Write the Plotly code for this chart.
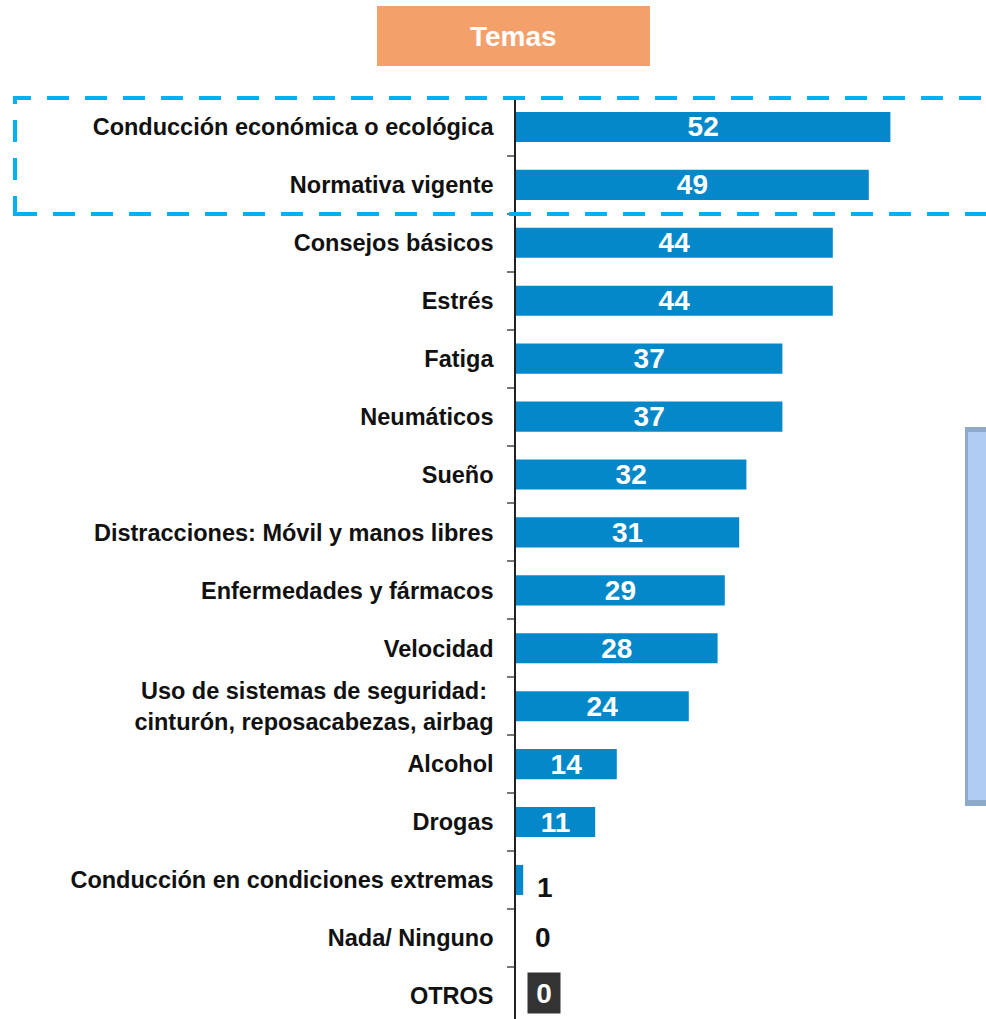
import plotly.graph_objects as go

categories = [
    "Conducción económica o ecológica",
    "Normativa vigente",
    "Consejos básicos",
    "Estrés",
    "Fatiga",
    "Neumáticos",
    "Sueño",
    "Distracciones: Móvil y manos libres",
    "Enfermedades y fármacos",
    "Velocidad",
    "Uso de sistemas de seguridad: <br>cinturón, reposacabezas, airbag",
    "Alcohol",
    "Drogas",
    "Conducción en condiciones extremas",
    "Nada/ Ninguno",
    "OTROS",
]
values = [52, 49, 44, 44, 37, 37, 32, 31, 29, 28, 24, 14, 11, 1, 0, 0]
title_text = "Temas"

OFF = 0  # page body margin removed via post_script
W, H = 986 - OFF, 1019 - OFF
ML, MR, MT, MB = 516 - OFF, 0, 98 - OFF, 0
PW, PH = W - ML - MR, H - MT - MB

def px(x):
    return (x - OFF - ML) / PW

def py(y):
    return (H - (y - OFF)) / PH

FONT = "Liberation Sans, Arial, sans-serif"
BAR = "#0588C9"

inside_text = [str(v) if v >= 5 else "" for v in values]

fig = go.Figure()
fig.add_trace(go.Bar(
    x=values, y=categories, orientation="h",
    marker=dict(color=BAR, line=dict(width=0)),
    width=0.52,
    text=inside_text, textposition="inside", insidetextanchor="middle",
    textangle=0, constraintext="none",
    textfont=dict(family=FONT, size=28, color="white", weight="bold"),
    hoverinfo="skip",
))

# outside/special value labels for the small bars
specials = [(13, 22, -8, None, "#111111"), (14, 27, 0, None, "#111111"), (15, 28, 3, "#333333", "white")]
for idx, xs, ys, bg, col in specials:
    kw = dict(
        x=values[idx], y=categories[idx], xref="x", yref="y",
        text=str(values[idx]), showarrow=False, xshift=xs, yshift=ys,
        font=dict(family=FONT, size=28, color=col, weight="bold"),
    )
    if bg:
        kw.update(bgcolor=bg, width=28, height=36, borderpad=2)
    fig.add_annotation(**kw)

# title box
fig.add_shape(type="rect", xref="paper", yref="paper",
              x0=px(377), x1=px(650), y0=py(66), y1=py(6),
              fillcolor="#F4A06B", line=dict(width=0), layer="above")
fig.add_annotation(x=px(513), y=py(37), xref="paper", yref="paper",
                   xanchor="center", yanchor="middle",
                   text=title_text, showarrow=False,
                   font=dict(family=FONT, size=28, color="white", weight="bold"))

# dashed highlight box
fig.add_shape(type="rect", xref="paper", yref="paper",
              x0=px(15), x1=px(1010), y0=py(214), y1=py(98),
              line=dict(color="#00B0F0", width=4, dash="22px,16px"),
              fillcolor="rgba(0,0,0,0)", layer="above")

# decorative bevelled panel at right
fig.add_shape(type="rect", xref="paper", yref="paper",
              x0=px(965), x1=px(1000), y0=py(806), y1=py(427),
              fillcolor="#8FA9C8", line=dict(width=0), layer="above")
fig.add_shape(type="rect", xref="paper", yref="paper",
              x0=px(968), x1=px(1000), y0=py(800), y1=py(432),
              fillcolor="#AFCDF3", line=dict(width=0), layer="above")

fig.update_layout(
    width=W, height=H,
    margin=dict(l=ML, r=MR, t=MT, b=MB, pad=0),
    paper_bgcolor="white", plot_bgcolor="white",
    showlegend=False, bargap=0.48,
    font=dict(family=FONT),
    xaxis=dict(visible=False, range=[0, PW / 7.2], fixedrange=True),
    yaxis=dict(
        type="category", categoryorder="array", categoryarray=categories,
        range=[15.4, -0.5],
        showline=True, linecolor="#222222", linewidth=1.5,
        ticks="outside", tickson="boundaries", ticklen=7,
        tickcolor="#777777", tickwidth=2,
        ticklabelstandoff=16,
        tickfont=dict(family=FONT, size=23.5, color="#111111", weight="bold"),
        showgrid=False, zeroline=False, fixedrange=True,
    ),
)

fig.write_html(
    "out.html",
    config={"displayModeBar": False},
    post_script="document.body.style.margin='0';document.body.style.overflow='hidden';",
)
